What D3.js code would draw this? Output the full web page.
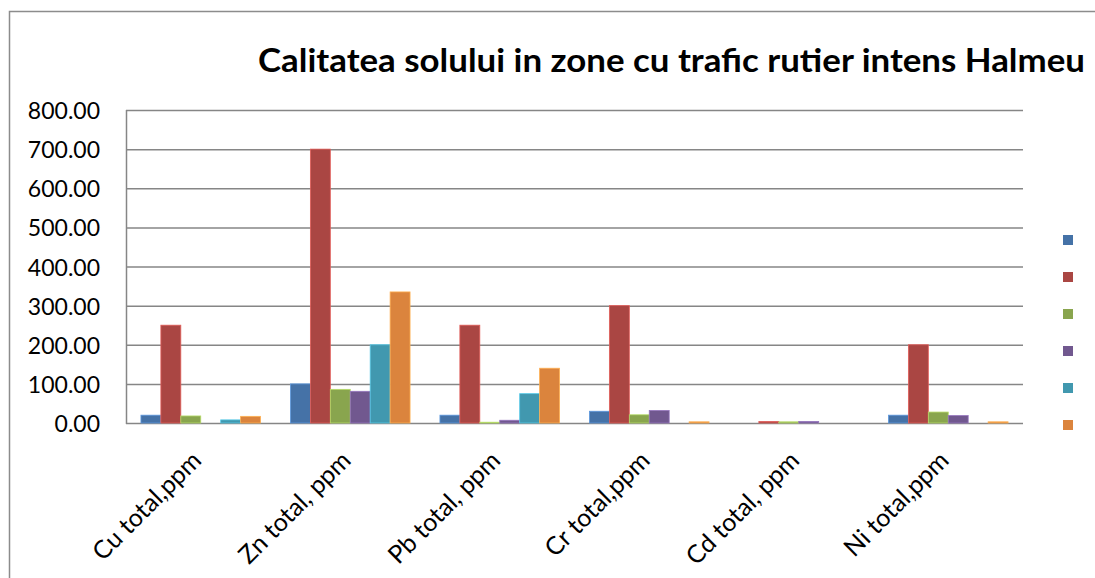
<!DOCTYPE html>
<html>
<head>
<meta charset="utf-8">
<script src="https://cdn.jsdelivr.net/npm/d3@7"></script>
<style>
body { margin: 0; background: #fff; }
svg { display: block; font-family: Lato, "Open Sans", sans-serif; }
</style>
</head>
<body>
<svg width="1095" height="578"></svg>
<script>
// chart data
var categories = ["Cu total,ppm", "Zn total, ppm", "Pb total, ppm", "Cr total,ppm", "Cd total, ppm", "Ni total,ppm"];
var series1 = [20, 100, 20, 30, 0, 20];
var series2 = [250, 700, 250, 300, 4, 200];
var series3 = [18, 86, 2, 21, 3, 28];
var series4 = [0, 81, 7, 32, 4, 19];
var series5 = [8, 200, 75, 0, 0, 0];
var series6 = [17, 335, 140, 3, 0, 3];
var yTicks = [0, 100, 200, 300, 400, 500, 600, 700, 800];
var titleText = "Calitatea solului in zone cu trafic rutier intens Halmeu";

var allSeries = [series1, series2, series3, series4, series5, series6];
var colors = ["#4572a7", "#aa4643", "#89a54e", "#71588f", "#4198af", "#db843d"];

var svgctrl = d3.select('svg');

// outer frame of the chart
svgctrl.append('rect').attr('x', 9.5).attr('y', 11.5).attr('width', 1200).attr('height', 700)
    .attr('fill', 'none').attr('stroke', '#8c8c8c').attr('stroke-width', 1.5);

var plotLeft = 126, plotRight = 1023, plotTop = 110, plotBottom = 423;

var y = d3.scaleLinear().domain([0, 800]).range([plotBottom, plotTop]);
var x0 = d3.scaleBand().domain(categories).range([plotLeft, plotRight]).padding(0);
var x1 = d3.scaleBand().domain(d3.range(allSeries.length)).range([0, x0.bandwidth()])
    .paddingInner(0).paddingOuter(0.75);

// gridlines
svgctrl.append('g').selectAll('line').data(yTicks).enter().append('line')
    .attr('x1', plotLeft).attr('x2', plotRight)
    .attr('y1', function(d) { return y(d) + 0.5; }).attr('y2', function(d) { return y(d) + 0.5; })
    .attr('stroke', '#868686').attr('stroke-width', 1.5);

// y axis labels
svgctrl.append('g').selectAll('text').data(yTicks).enter().append('text')
    .attr('x', 100).attr('y', function(d) { return y(d) + 9; })
    .attr('text-anchor', 'end').attr('font-size', 23).attr('fill', '#000')
    .text(function(d) { return d3.format('.2f')(d); });

// bars
allSeries.forEach(function(s, i) {
    svgctrl.append('g').selectAll('rect').data(s).enter().append('rect')
        .attr('x', function(d, j) { return x0(categories[j]) + x1(i); })
        .attr('y', function(d) { return y(d); })
        .attr('width', x1.bandwidth())
        .attr('height', function(d) { return y(0) - y(d); })
        .attr('fill', colors[i])
        .attr('stroke', d3.color(colors[i]).brighter(0.8)).attr('stroke-width', 0.8);
});

// value axis line
svgctrl.append('line').attr('x1', plotLeft + 0.5).attr('x2', plotLeft + 0.5).attr('y1', plotTop).attr('y2', plotBottom + 1)
    .attr('stroke', '#868686').attr('stroke-width', 1.5);

// category labels
svgctrl.append('g').selectAll('text').data(categories).enter().append('text')
    .attr('transform', function(d) { return 'translate(' + (x0(d) + x0.bandwidth() / 2 + 2) + ',462) rotate(-45)'; })
    .attr('text-anchor', 'end').attr('font-size', 25).attr('fill', '#000')
    .text(function(d) { return d; });

// legend (colour keys only)
var legendY = d3.scalePoint().domain(d3.range(allSeries.length)).range([240, 425]);
svgctrl.append('g').selectAll('rect').data(colors).enter().append('rect')
    .attr('x', 1063).attr('y', function(d, i) { return legendY(i) - 5; })
    .attr('width', 10).attr('height', 10).attr('fill', function(d) { return d; });

// title
svgctrl.append('text').attr('x', 258).attr('y', 72)
    .attr('font-size', 32).attr('font-weight', 'bold').attr('fill', '#000')
    .attr('textLength', 827).attr('lengthAdjust', 'spacingAndGlyphs')
    .text(titleText);
</script>
</body>
</html>
